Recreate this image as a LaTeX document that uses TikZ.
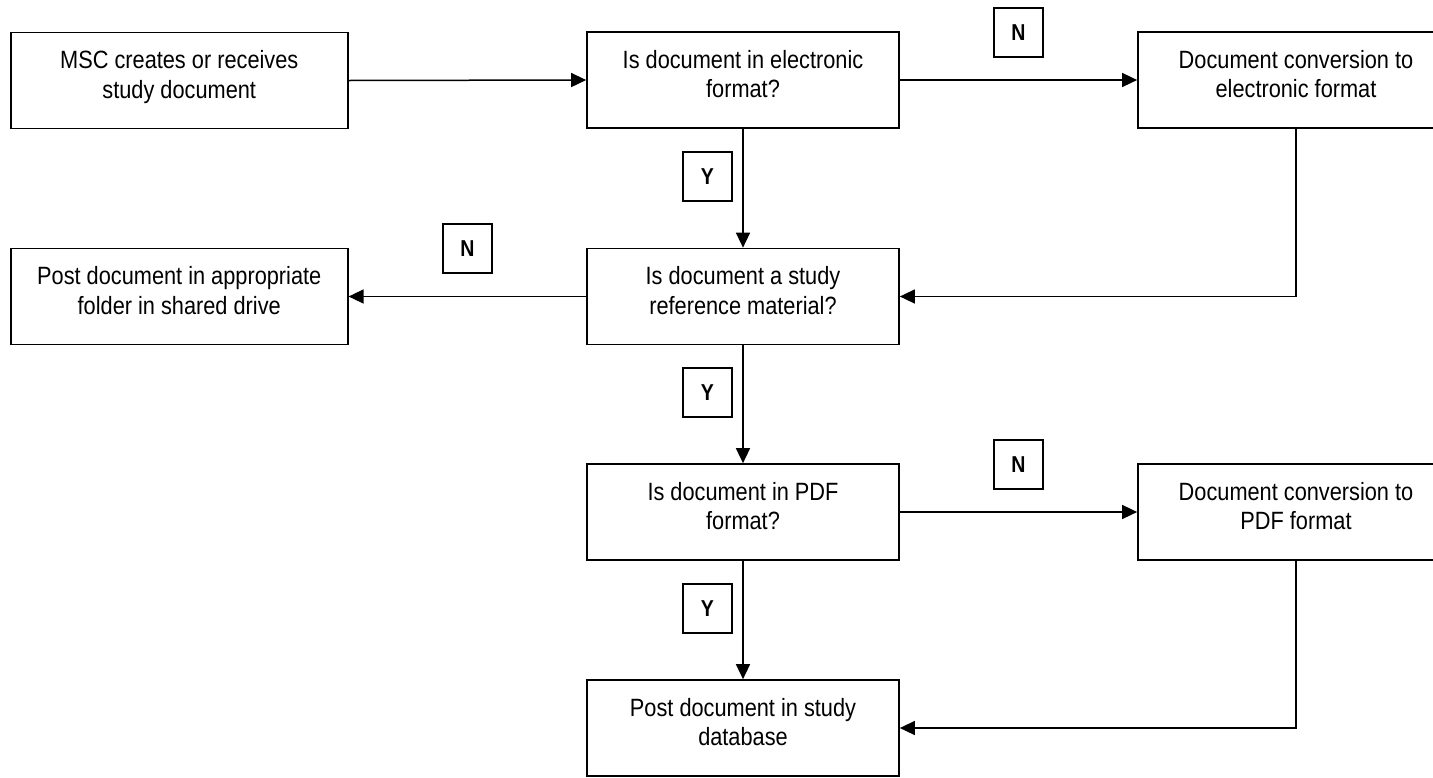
\documentclass[tikz,border=0pt]{standalone}
\usepackage{fontspec}
\setmainfont{Liberation Sans}[FakeStretch=0.87]
\newfontfamily\tagfont{Liberation Sans}[FakeStretch=0.85]
\usetikzlibrary{arrows.meta}

% box text: top-anchored, centred lines
\newcommand{\boxtext}[2]{\parbox[c][96pt][t]{#1}{\centering\vspace*{18pt}#2}}

\tikzset{
  stepbox/.style={draw, line width=1.7pt, inner sep=0pt, minimum height=96pt,
                  font=\fontsize{25}{29.5}\selectfont},
  wide/.style={minimum width=337pt},
  normal/.style={minimum width=312pt},
  conv/.style={minimum width=316pt},
  tagbox/.style={draw, line width=1.5pt, inner sep=0pt, minimum size=49pt,
                 font=\tagfont\bfseries\fontsize{23}{25}\selectfont},
  flow/.style={line width=1.5pt, -{Triangle[length=15pt,width=14pt]}},
}

\begin{document}
\begin{tikzpicture}[x=1pt,y=-1pt]
  \useasboundingbox (0,0) rectangle (1433,777);
  \clip (0,0) rectangle (1433,777);
  \fill[white] (0,0) rectangle (1433,777);

  % process and decision boxes
  \node[stepbox, wide]   (create)  at (179.25,80.5) {\boxtext{320pt}{MSC creates or receives\\study document}};
  \node[stepbox, normal] (elec)    at (743,80)      {\boxtext{300pt}{Is document in electronic\\format?}};
  \node[stepbox, conv]   (toelec)  at (1296,80)     {\boxtext{300pt}{Document conversion to\\electronic format}};
  \node[stepbox, wide]   (shared)  at (179.25,296.5){\boxtext{320pt}{Post document in appropriate\\folder in shared drive}};
  \node[stepbox, normal] (ref)     at (743,296.5)   {\boxtext{300pt}{Is document a study\\reference material?}};
  \node[stepbox, normal] (pdf)     at (743,512)     {\boxtext{300pt}{Is document in PDF\\format?}};
  \node[stepbox, conv]   (topdf)   at (1296,512)    {\boxtext{300pt}{Document conversion to\\PDF format}};
  \node[stepbox, normal] (db)      at (743,728)     {\boxtext{300pt}{Post document in study\\database}};

  % yes / no tags
  \node[tagbox] (n1) at (1018.5,32.5)  {N};
  \node[tagbox] (y1) at (707.5,176.5)  {Y};
  \node[tagbox] (n2) at (467.5,248.5)  {N};
  \node[tagbox] (y2) at (707.5,392.5)  {Y};
  \node[tagbox] (n3) at (1018.5,464.5) {N};
  \node[tagbox] (y3) at (707.5,608.5)  {Y};

  % connectors
  \draw[flow] (create.east) -- (elec.west);
  \draw[flow] (elec.east) -- (toelec.west);
  \draw[flow] (elec.south) -- (ref.north);
  \draw[flow] (toelec.south) |- (ref.east);
  \draw[flow] (ref.west) -- (shared.east);
  \draw[flow] (ref.south) -- (pdf.north);
  \draw[flow] (pdf.east) -- (topdf.west);
  \draw[flow] (pdf.south) -- (db.north);
  \draw[flow] (topdf.south) |- (db.east);
\end{tikzpicture}
\end{document}
